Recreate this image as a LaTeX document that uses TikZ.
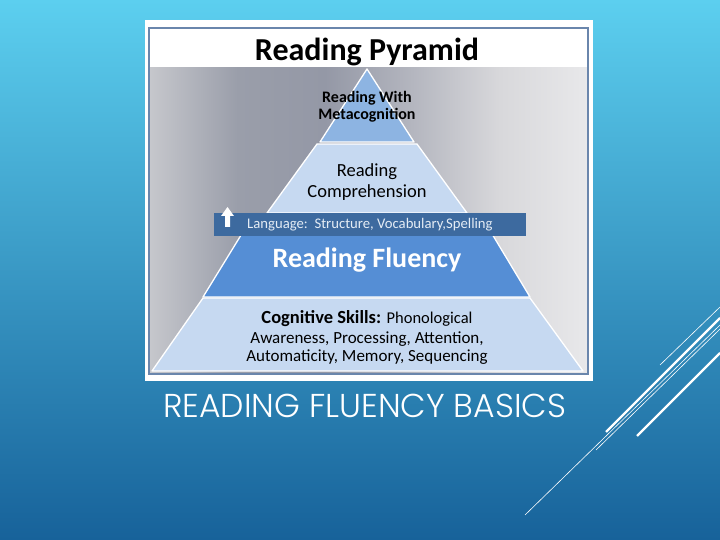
\documentclass[tikz,border=0pt]{standalone}
\usepackage{fontspec}
\setmainfont{Carlito}
\IfFontExistsTF{Poppins Light}{\newfontfamily\gothic{Poppins Light}}{\newfontfamily\gothic{Poppins}}
\definecolor{bgtop}{HTML}{5CCFEF}
\definecolor{bgbot}{HTML}{17629A}
\definecolor{framebd}{HTML}{6A86AC}
\definecolor{lvltop}{HTML}{8DB4E2}
\definecolor{lvllight}{HTML}{C6D9F1}
\definecolor{lvlflu}{HTML}{558ED5}
\definecolor{bannerc}{HTML}{3D6A9F}
\definecolor{bannertx}{HTML}{E4ECF5}
\definecolor{ga}{HTML}{C6C7CC}
\definecolor{gb}{HTML}{9A9EAA}
\definecolor{gc}{HTML}{9498A6}
\definecolor{gd}{HTML}{B4B6BF}
\definecolor{ge}{HTML}{D8D8DB}
\definecolor{gf}{HTML}{E8E8EA}
\pgfdeclarehorizontalshading{grayband}{100bp}{color(0bp)=(ga); color(25bp)=(ga); color(35bp)=(gb); color(45bp)=(gc); color(55bp)=(gd); color(65bp)=(ge); color(75bp)=(gf); color(100bp)=(gf)}
\begin{document}
\begin{tikzpicture}[x=1pt,y=-1pt,
  lvl/.style={draw=white, line width=1.3pt, line join=round},
  deco/.style={white, line width=0.6pt},
  decothick/.style={white, line width=2.2pt},
  lbl/.style={inner sep=0pt, anchor=base, text=black}
]
\useasboundingbox (0,0) rectangle (720,540);
% background
\shade[top color=bgtop, bottom color=bgbot] (0,0) rectangle (720,540);
% decorative lines
\draw[deco] (660,365) -- (720,307);
\draw[decothick] (606,432) -- (720,318);
\draw[deco] (596,450) -- (720,329);
\draw[deco] (525,515) -- (720,325);
\draw[decothick] (637,436) -- (720,353);
% frame
\fill[white] (145,20) rectangle (593,381);
\shade[shading=grayband] (150,68) rectangle (587,373);
\draw[framebd, line width=2pt] (149,28) rectangle (588,374);
% pyramid levels
\filldraw[lvl, fill=lvllight] (203,298) -- (530,298) -- (583,371) -- (152,371) -- cycle;
\filldraw[lvl, fill=lvlflu] (254,214) -- (480,214) -- (530,297) -- (203,297) -- cycle;
\filldraw[lvl, fill=lvllight] (317,144) -- (417,144) -- (467,213) -- (267,213) -- cycle;
\filldraw[lvl, fill=lvltop] (367,69) -- (414,142) -- (320,142) -- cycle;
% banner
\fill[bannerc] (214,213) rectangle (526,236);
\fill[white] (225,227) -- (225,216) -- (221,216) -- (227.5,207) -- (234,216) -- (230,216) -- (230,227) -- cycle;
% texts
\node[lbl] (title) at (367,61) {\fontsize{32}{32}\selectfont\bfseries Reading Pyramid};
\node[lbl] (meta1) at (367,103) {\fontsize{16}{16}\selectfont\bfseries Reading With};
\node[lbl] (meta2) at (367,120) {\fontsize{16}{16}\selectfont\bfseries Metacognition};
\node[lbl] (comp1) at (367,177) {\fontsize{18.5}{18.5}\selectfont Reading};
\node[lbl] (comp2) at (367,197) {\fontsize{18.5}{18.5}\selectfont Comprehension};
\node[lbl, anchor=base west, text=bannertx] (lang) at (247,229) {\fontsize{14.7}{14.7}\selectfont Language:\ \ Structure, Vocabulary,Spelling};
\node[lbl, text=white] (flu) at (367,267) {\fontsize{28}{28}\selectfont\bfseries Reading Fluency};
\node[lbl] (cog1) at (367,323) {\fontsize{18.5}{18.5}\selectfont\bfseries Cognitive Skills: \fontsize{16.5}{16.5}\selectfont\mdseries Phonological};
\node[lbl] (cog2) at (367,343) {\fontsize{17}{17}\selectfont Awareness, Processing, Attention,};
\node[lbl] (cog3) at (367,361) {\fontsize{17}{17}\selectfont Automaticity, Memory, Sequencing};
\node[lbl, anchor=base west, text=white] (basics) at (163,417) {\resizebox{403pt}{!}{\gothic\fontsize{30}{30}\selectfont READING FLUENCY BASICS}};
\end{tikzpicture}
\end{document}
